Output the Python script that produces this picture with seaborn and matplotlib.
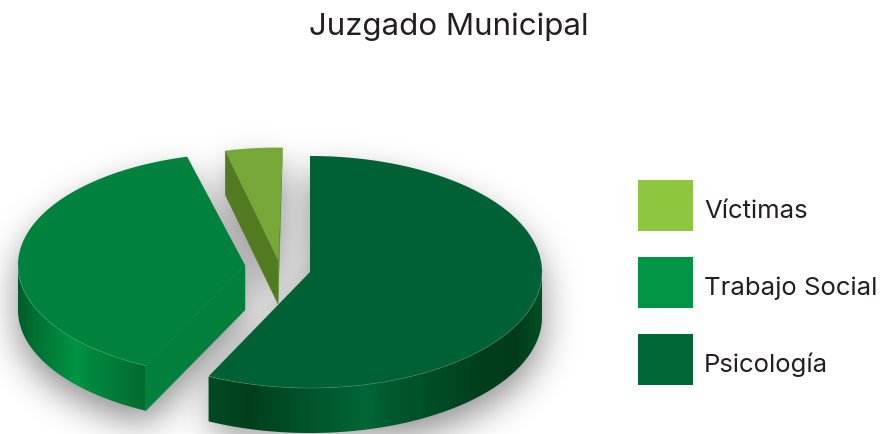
import numpy as np
import pandas as pd
import matplotlib
matplotlib.use("Agg")
import matplotlib.pyplot as plt
from matplotlib.colors import LinearSegmentedColormap
from matplotlib.patches import Patch, Polygon
from matplotlib.path import Path
import seaborn as sns

# ---- data -------------------------------------------------------------
title = "Juzgado Municipal"
categories = ["Psicología", "Trabajo Social", "Víctimas"]
values = [57.2, 38.7, 4.1]
legend_order = ["Víctimas", "Trabajo Social", "Psicología"]

# ---- style ------------------------------------------------------------
top_colors = ["#006135", "#00823f", "#76a737"]
legend_colors = {"Psicología": "#006837", "Trabajo Social": "#009444", "Víctimas": "#8dc63f"}
wall_stops = [
    [(208, "#004a22"), (250, "#003f19"), (290, "#004f26"), (367, "#006637"), (390, "#005a2e"),
     (433, "#004d24"), (480, "#003f1c"), (517, "#003c18"), (542, "#004f22")],
    [(18, "#005c28"), (33, "#006f33"), (77, "#009444"), (87, "#008a3f"), (110, "#007e3a"),
     (147, "#00692f")],
]
cut_colors = ["#006135", "#00803c", "#527a21"]
side_sliver = "#5c8f2a"
centers_x = [310, 245, 278]
centers_y = [272, 265, 260]
radii_x = [232, 227, 225]
radii_y = [116, 112, 112.5]
depths = [45, 45, 44]
angle_shift = [0.0, 0.0, 1.2]

df = pd.DataFrame({"cat": categories, "value": values})
df["sweep"] = df["value"] / df["value"].sum() * 360
df["start"] = df["sweep"].cumsum().shift(fill_value=0) + angle_shift
df["end"] = df["start"] + df["sweep"]

sns.set_theme(style="white")
plt.rcParams["font.family"] = ["Inter", "DejaVu Sans"]

W, H = 884, 434
fig = plt.figure(figsize=(W / 100, H / 100), dpi=100, facecolor="white")
ax = fig.add_axes([0, 0, 1, 1])
ax.axis("off")


def rim(i, a, b, n=None):
    n = n or max(3, int(abs(b - a) * 2))
    t = np.radians(np.linspace(a, b, n))
    return np.column_stack([centers_x[i] + radii_x[i] * np.sin(t),
                            centers_y[i] - radii_y[i] * np.cos(t)])


def top_shape(i):
    r = df.iloc[i]
    return np.vstack([[centers_x[i], centers_y[i]], rim(i, r.start, r.end)])


# ---- soft shadow under the pie ------------------------------------------
xx, yy = np.meshgrid(np.arange(W) + .5, np.arange(H) + .5)
pts = np.column_stack([xx.ravel(), yy.ravel()])
mask = np.zeros(pts.shape[0], bool)
for i in range(3):
    for shift in (18, 32, 45, 58):
        mask |= Path(top_shape(i) + [0, shift]).contains_points(pts)
mask = mask.reshape(H, W).astype(float)
pad = 80
mask = np.pad(mask, pad, mode="constant")
sig = 18
kx = np.arange(-3 * sig, 3 * sig + 1)
kern = np.exp(-kx ** 2 / (2 * sig ** 2))
kern /= kern.sum()
blur = np.apply_along_axis(lambda m: np.convolve(m, kern, "same"), 0, mask)
blur = np.apply_along_axis(lambda m: np.convolve(m, kern, "same"), 1, blur)
blur = blur[pad:-pad, pad:-pad]
rgba = np.zeros((H, W, 4))
rgba[..., 3] = np.clip(blur, 0, 1) * 0.46
ax.imshow(rgba, extent=(0, W, H, 0), aspect="auto", interpolation="bilinear", zorder=1)

# ---- pie slices ----------------------------------------------------------
for i in range(3):
    r = df.iloc[i]
    d = depths[i]
    c0 = np.array([centers_x[i], centers_y[i]], float)
    corner_a = rim(i, r.start, r.start, 1)[0]
    corner_b = rim(i, r.end, r.end, 1)[0]

    # outer wall (front half of the rim only), shaded left to right
    a, b = max(r.start, 90), min(r.end, 270)
    if i < 2 and b > a:
        edge = rim(i, a, b, int((b - a) * 3))
        stops = wall_stops[i]
        lo, hi = stops[0][0], stops[-1][0]
        cmap = LinearSegmentedColormap.from_list(
            "wall", [((x - lo) / (hi - lo), c) for x, c in stops])
        outline = np.vstack([edge, (edge + [0, d])[::-1]])
        clip = Polygon(outline, closed=True, transform=ax.transData, fc="none", ec="none")
        ax.add_patch(clip)
        im = ax.imshow(np.linspace(0, 1, 512)[None, :], cmap=cmap, vmin=0, vmax=1,
                       extent=(lo, hi, outline[:, 1].max(), outline[:, 1].min()),
                       aspect="auto", interpolation="bilinear", zorder=2 + i)
        im.set_clip_path(clip)

    # straight cut walls that face the viewer
    if i >= 1:
        ax.add_patch(Polygon([corner_a, c0, c0 + [0, d], corner_a + [0, d]],
                             fc=cut_colors[i], ec=cut_colors[i], lw=0.3, zorder=2 + i))
    if i == 2:
        ax.add_patch(Polygon([corner_b, c0, c0 + [0, d]],
                             fc=side_sliver, ec=side_sliver, lw=0.3, zorder=2 + i))

    # top face
    ax.add_patch(Polygon(top_shape(i), closed=True, fc=top_colors[i], ec="none", zorder=5 + i))
    # faint light rim
    if i < 2:
        ax.plot(*rim(i, max(r.start, 90), min(r.end, 270)).T, color="white", alpha=0.18,
                lw=0.6, zorder=8)
    else:
        ax.plot(*rim(i, r.start, r.end).T, color="white", alpha=0.18, lw=0.6, zorder=8)

ax.set_xlim(0, W)
ax.set_ylim(H, 0)

# ---- title and legend ----------------------------------------------------
ax.text(449, 35, title, ha="center", va="baseline", fontsize=22.5, color="#231f20", zorder=10)

fs = 18.5
handles = [Patch(fc=legend_colors[c], ec="none") for c in legend_order]
leg = ax.legend(handles, legend_order, loc="upper left",
                bbox_to_anchor=(638 / W, 1 - 180 / H), bbox_transform=ax.transAxes,
                frameon=False, fontsize=fs, borderpad=0, borderaxespad=0,
                handlelength=55 / 1.389 / fs, handleheight=69 / 1.389 / fs,
                labelspacing=25.8 / 1.389 / fs, handletextpad=11 / 1.389 / fs,
                labelcolor="#231f20")
leg.set_zorder(10)
for t in leg.get_texts():
    t.set_y(-5)

fig.savefig("out.png", dpi=100, facecolor="white")
